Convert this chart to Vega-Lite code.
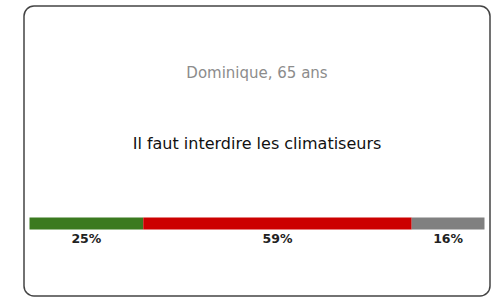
{
  "$schema": "https://vega.github.io/schema/vega-lite/v6.json",
  "width": 466,
  "height": 290,
  "autosize": "none",
  "padding": {"left": 24, "top": 6, "right": 2, "bottom": 4},
  "background": "white",
  "config": {
    "view": {"stroke": "#444444", "strokeWidth": 1.5, "cornerRadius": 10},
    "font": "DejaVu Sans"
  },
  "datasets": {
    "votes": [
      {"reponse": "D'accord", "part_votes": 0.25},
      {"reponse": "Pas d'accord", "part_votes": 0.59},
      {"reponse": "Sans opinion", "part_votes": 0.16}
    ]
  },
  "encoding": {
    "y": {
      "field": "part",
      "type": "nominal",
      "scale": {"type": "point", "domain": ["name", "question", "bar"], "padding": 1.071},
      "axis": null
    }
  },
  "layer": [
    {
      "data": {"values": [{"part": "name", "text": "Dominique, 65 ans"}]},
      "mark": {"type": "text", "fontSize": 15, "color": "#8c8c8c", "dy": -6, "align": "center", "baseline": "middle"},
      "encoding": {"text": {"field": "text"}}
    },
    {
      "data": {"values": [{"part": "question", "text": "Il faut interdire les climatiseurs"}]},
      "mark": {"type": "text", "fontSize": 16, "color": "#111111", "dy": -7, "align": "center", "baseline": "middle"},
      "encoding": {"text": {"field": "text"}}
    },
    {
      "data": {"name": "votes"},
      "transform": [{"calculate": "'bar'", "as": "part"}],
      "mark": {"type": "bar", "size": 12},
      "encoding": {
        "x": {
          "field": "part_votes",
          "type": "quantitative",
          "stack": "zero",
          "scale": {"domain": [-0.0121, 1.0121], "nice": false, "zero": false},
          "axis": null
        },
        "color": {
          "field": "reponse",
          "type": "nominal",
          "scale": {"domain": ["D'accord", "Pas d'accord", "Sans opinion"], "range": ["#3b7a20", "#cc0000", "#808080"]},
          "legend": null
        },
        "order": {"field": "reponse"}
      }
    },
    {
      "data": {"name": "votes"},
      "transform": [{"calculate": "'bar'", "as": "part"}],
      "mark": {"type": "text", "fontSize": 12.5, "fontWeight": "bold", "color": "#222222", "dy": 15, "align": "center", "baseline": "middle"},
      "encoding": {
        "x": {"field": "part_votes", "type": "quantitative", "stack": "zero", "bandPosition": 0.5},
        "text": {"field": "part_votes", "type": "quantitative", "format": ".0%"},
        "detail": {"field": "reponse"},
        "order": {"field": "reponse"}
      }
    }
  ]
}
